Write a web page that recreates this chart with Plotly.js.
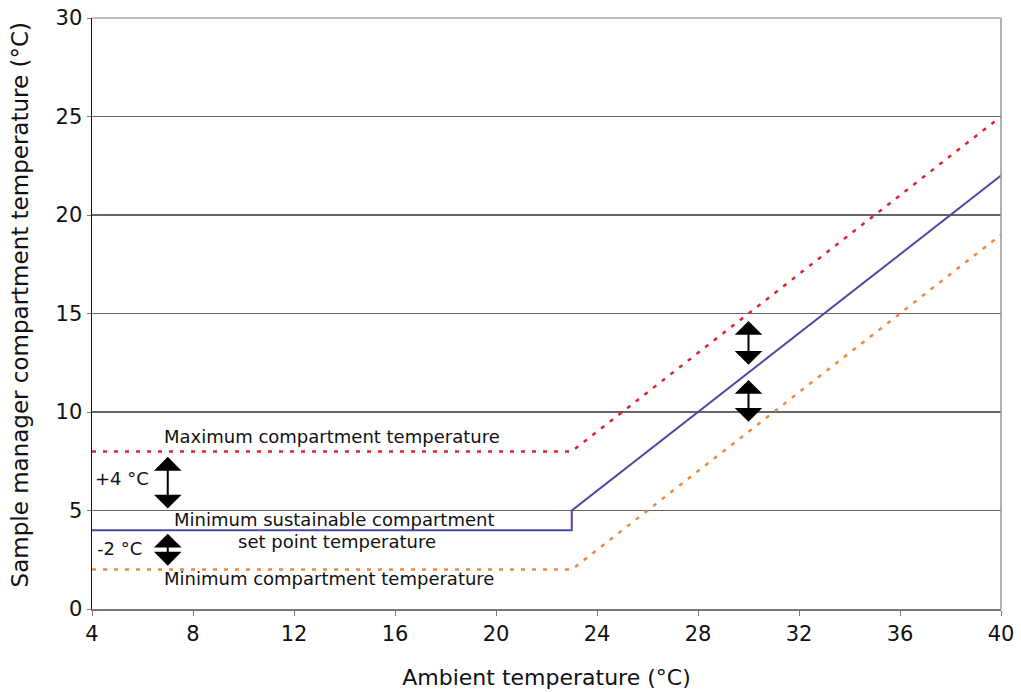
<!DOCTYPE html>
<html>
<head>
<meta charset="utf-8">
<script src="https://cdn.plot.ly/plotly-3.0.1.min.js"></script>
<style>html,body{margin:0;padding:0;background:#fff;}#chart{width:1021px;height:692px;}</style>
</head>
<body>
<div id="chart"></div>
<script>
// Data
const maxX = [4, 23, 40];
const maxY = [8, 8, 25];
const setX = [4, 23, 23, 40];
const setY = [4, 4, 5, 22];
const minX = [4, 23, 40];
const minY = [2, 2, 19];
const xTicks = [4, 8, 12, 16, 20, 24, 28, 32, 36, 40];
const yTicks = [0, 5, 10, 15, 20, 25, 30];
const yTitle = "Sample manager compartment temperature (°C)";
const xTitle = "Ambient temperature (°C)";
const labels = [
  {text: "Maximum compartment temperature", x: 13.5, y: 8.75},
  {text: "Minimum sustainable compartment", x: 13.6, y: 4.55},
  {text: "set point temperature", x: 13.7, y: 3.42},
  {text: "Minimum compartment temperature", x: 13.4, y: 1.55},
  {text: "+4 °C", x: 5.2, y: 6.6},
  {text: "-2 °C", x: 5.1, y: 3.05}
];
const arrows = [
  {x: 7, y1: 7.8, y2: 5.1},
  {x: 7, y1: 3.9, y2: 2.2},
  {x: 30, y1: 14.7, y2: 12.4},
  {x: 30, y1: 11.7, y2: 9.5}
];

const font = "DejaVu Sans, Verdana, sans-serif";

const traces = [
  {x: maxX, y: maxY, mode: "lines", line: {color: "#e4202b", width: 2.5, dash: "4px,7px"}, hoverinfo: "skip"},
  {x: setX, y: setY, mode: "lines", line: {color: "#4a48a6", width: 2}, hoverinfo: "skip"},
  {x: minX, y: minY, mode: "lines", line: {color: "#f0883a", width: 2.5, dash: "4px,7px"}, hoverinfo: "skip"}
];

const annotations = labels.map(l => ({
  x: l.x, y: l.y, xref: "x", yref: "y", text: l.text, showarrow: false,
  font: {family: font, size: 18, color: "#111"}, xanchor: "center", yanchor: "middle"
}));
arrows.forEach(a => {
  annotations.push({
    x: a.x, y: a.y2, ax: a.x, ay: a.y1, xref: "x", yref: "y", axref: "x", ayref: "y",
    text: "", showarrow: true, arrowhead: 1, startarrowhead: 1, arrowside: "end+start",
    arrowsize: 2.3, startarrowsize: 2.3, arrowwidth: 2, arrowcolor: "#000"
  });
});
annotations.push({
  x: -0.079, y: 0.514, xref: "paper", yref: "paper", text: yTitle, showarrow: false,
  textangle: -90, xanchor: "center", yanchor: "middle",
  font: {family: font, size: 23, color: "#111"}
});

const layout = {
  width: 1021, height: 692,
  margin: {l: 92, r: 20, t: 18, b: 83},
  paper_bgcolor: "#fff", plot_bgcolor: "#fff",
  showlegend: false,
  font: {family: font, size: 21, color: "#111"},
  xaxis: {
    range: [4, 40], tickvals: xTicks, ticktext: xTicks.map(String),
    ticks: "outside", ticklen: 5, tickcolor: "#777", tickwidth: 1,
    showgrid: false, zeroline: false,
    showline: true, linecolor: "#777", linewidth: 2,
    tickfont: {family: font, size: 21, color: "#111"},
    title: {text: xTitle, font: {family: font, size: 22, color: "#111"}, standoff: 24}
  },
  yaxis: {
    range: [0, 30], tickvals: yTicks, ticktext: yTicks.map(String),
    ticks: "outside", ticklen: 4, tickcolor: "#777", tickwidth: 1,
    showgrid: true, gridcolor: "#666", gridwidth: 1.2, zeroline: false,
    showline: true, linecolor: "#111", linewidth: 1.5,
    tickfont: {family: font, size: 21, color: "#111"}
  },
  shapes: [
    {type: "line", xref: "paper", yref: "paper", x0: 1, x1: 1, y0: 0, y1: 1, line: {color: "#999", width: 1.5}},
    {type: "line", xref: "paper", yref: "paper", x0: 0, x1: 1, y0: 1, y1: 1, line: {color: "#aaa", width: 1.5}}
  ],
  annotations: annotations
};

Plotly.newPlot("chart", traces, layout, {displayModeBar: false, staticPlot: true});
</script>
</body>
</html>
